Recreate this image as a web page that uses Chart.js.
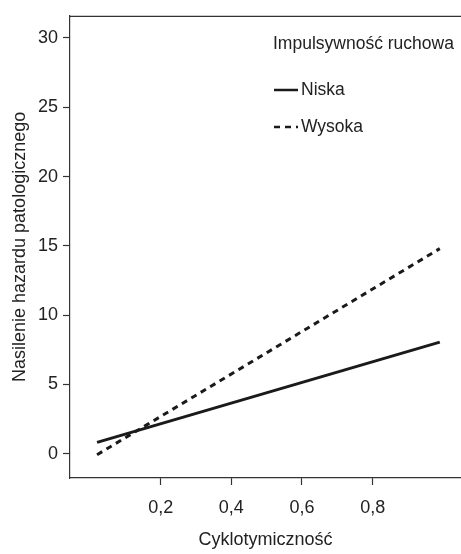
<!DOCTYPE html>
<html>
<head>
<meta charset="utf-8">
<script src="https://cdn.jsdelivr.net/npm/chart.js@4"></script>
<style>
  html, body { margin: 0; padding: 0; background: #fff; }
  canvas { display: block; }
</style>
</head>
<body>
<canvas id="chart" width="461" height="554"></canvas>
<script>
// data
const xValues = [0.02, 0.99];
const niska = [0.82, 8.05];
const wysoka = [-0.07, 14.8];
const xTicks = [0.2, 0.4, 0.6, 0.8];
const yTicks = [0, 5, 10, 15, 20, 25, 30];
const seriesLabels = ["Niska", "Wysoka"];
const legendTitle = "Impulsywność ruchowa";
const xTitle = "Cyklotymiczność";
const yTitle = "Nasilenie hazardu patologicznego";

const FONT = "'Liberation Sans', Arial, sans-serif";
const INK = "#222";

function points(ys) {
  return xValues.map((x, i) => ({ x: x, y: ys[i] }));
}

// top frame line + legend inside the plot
const framePlugin = {
  id: "frameAndLegend",
  afterDraw(chart) {
    const { ctx, chartArea } = chart;
    ctx.save();
    ctx.strokeStyle = "#333";
    ctx.lineWidth = 1.2;
    ctx.beginPath();
    ctx.moveTo(chartArea.left, chartArea.top + 0.5);
    ctx.lineTo(chartArea.right, chartArea.top + 0.5);
    ctx.stroke();

    ctx.fillStyle = INK;
    ctx.font = "17.5px " + FONT;
    ctx.textBaseline = "middle";
    ctx.textAlign = "left";
    ctx.fillText(legendTitle, 273, 44);

    const rows = [90, 127];
    chart.data.datasets.forEach((ds, i) => {
      const y = rows[i];
      ctx.strokeStyle = ds.borderColor;
      ctx.lineWidth = 2.5;
      ctx.setLineDash(ds.borderDash || []);
      ctx.beginPath();
      ctx.moveTo(274, y);
      ctx.lineTo(298, y);
      ctx.stroke();
      ctx.setLineDash([]);
      ctx.fillText(ds.label, 301, y);
    });
    ctx.restore();
  }
};

new Chart(document.getElementById("chart"), {
  type: "line",
  data: {
    datasets: [
      {
        label: seriesLabels[0],
        data: points(niska),
        borderColor: "#1a1a1a",
        borderWidth: 3,
        pointRadius: 0,
        fill: false
      },
      {
        label: seriesLabels[1],
        data: points(wysoka),
        borderColor: "#1a1a1a",
        borderWidth: 3,
        borderDash: [6, 5],
        pointRadius: 0,
        fill: false
      }
    ]
  },
  options: {
    responsive: false,
    animation: false,
    layout: { padding: { top: 8, right: 0, left: 0, bottom: 0 } },
    plugins: {
      legend: { display: false },
      tooltip: { enabled: false }
    },
    scales: {
      x: {
        type: "linear",
        min: -0.0566,
        max: 1.05,
        afterBuildTicks: s => { s.ticks = xTicks.map(v => ({ value: v })); },
        afterFit: s => { s.height = 76; },
        grid: { drawOnChartArea: false, tickLength: 7, tickColor: "#333", tickWidth: 1.2 },
        border: { color: "#333", width: 1.2 },
        ticks: {
          color: INK,
          padding: 12,
          font: { family: FONT, size: 18 },
          maxRotation: 0,
          callback: v => v.toFixed(1).replace(".", ",")
        },
        title: {
          display: true,
          text: xTitle,
          color: INK,
          font: { family: FONT, size: 18 },
          padding: { top: 0, bottom: 3 }
        }
      },
      y: {
        min: -1.75,
        max: 31.6,
        afterBuildTicks: s => { s.ticks = yTicks.map(v => ({ value: v })); },
        afterFit: s => { s.width = 70; },
        grid: { drawOnChartArea: false, tickLength: 7, tickColor: "#333", tickWidth: 1.2 },
        border: { color: "#333", width: 1.2 },
        ticks: {
          color: INK,
          padding: 5,
          font: { family: FONT, size: 18 }
        },
        title: {
          display: true,
          text: yTitle,
          color: INK,
          font: { family: FONT, size: 18 },
          padding: { top: 9, bottom: 0 }
        }
      }
    }
  },
  plugins: [framePlugin]
});
</script>
</body>
</html>
